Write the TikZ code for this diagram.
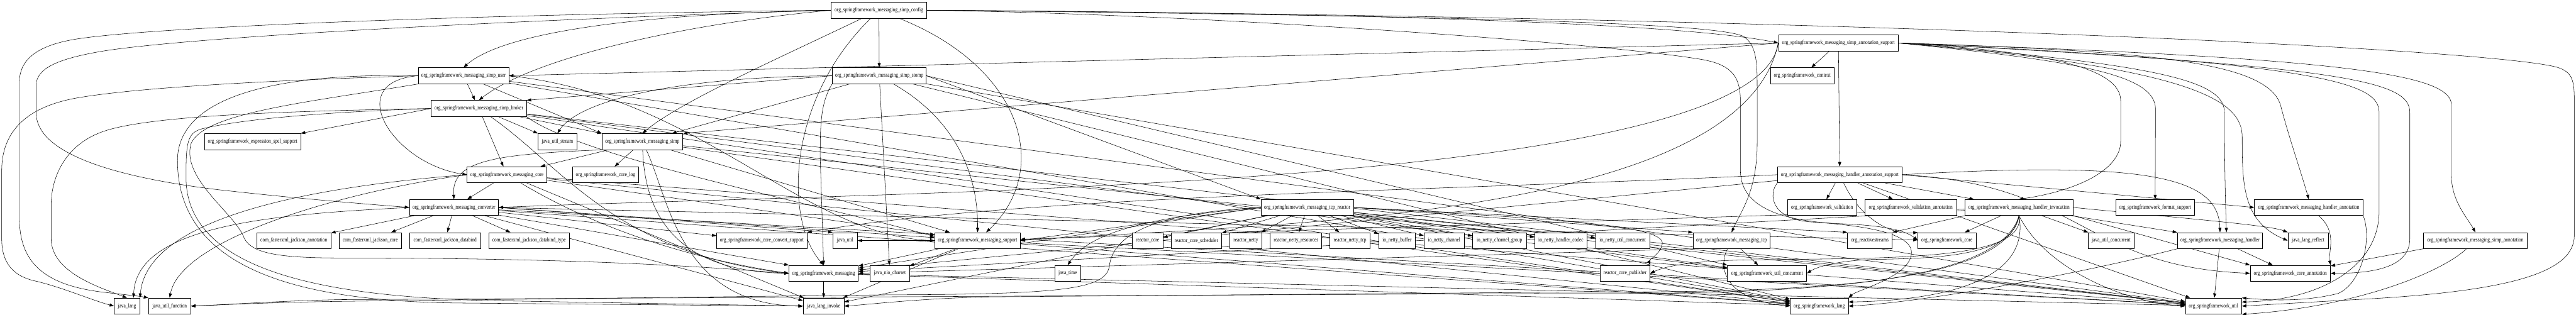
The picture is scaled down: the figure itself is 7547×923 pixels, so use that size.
\documentclass[tikz,border=0pt]{standalone}
\usepackage{fontspec}
\usepackage{graphicx}
\setmainfont{Liberation Serif}
\usetikzlibrary{arrows.meta,calc,backgrounds}
\begin{document}
\begin{tikzpicture}[x=1pt,y=-1pt,
 pkg/.style={draw,line width=1.3pt,fill=white,rectangle,minimum height=47pt,inner sep=0pt,font=\fontsize{13.7}{16}\selectfont},
 dep/.style={line width=1pt,-{Triangle[length=13pt,width=9pt]}}]
\useasboundingbox (0,0) rectangle (7547,923);
\newcommand\pkgnode[5]{\node[pkg,minimum width=#4pt] (#1) at (#2,#3) {\scalebox{1}[1.25]{#5}};}
% row A-F
\pkgnode{cfg}{2575}{30}{280}{org\_springframework\_messaging\_simp\_config}
\pkgnode{sas}{5386}{126}{351}{org\_springframework\_messaging\_simp\_annotation\_support}
\pkgnode{su}{1358}{222}{265}{org\_springframework\_messaging\_simp\_user}
\pkgnode{ss}{2576}{222}{275}{org\_springframework\_messaging\_simp\_stomp}
\pkgnode{ctx}{5280}{222}{187}{org\_springframework\_context}
\pkgnode{sb}{1403}{318}{279}{org\_springframework\_messaging\_simp\_broker}
\pkgnode{spel}{740}{415}{281}{org\_springframework\_expression\_spel\_support}
\pkgnode{jus}{1633}{415}{113}{java\_util\_stream}
\pkgnode{simp}{1882}{415}{237}{org\_springframework\_messaging\_simp}
\pkgnode{core}{1485}{512}{233}{org\_springframework\_messaging\_core}
\pkgnode{log}{1774}{512}{195}{org\_springframework\_core\_log}
\pkgnode{has}{5390}{512}{365}{org\_springframework\_messaging\_handler\_annotation\_support}
% row G
\pkgnode{conv}{1330}{608}{261}{org\_springframework\_messaging\_converter}
\pkgnode{tcpr}{3830}{608}{271}{org\_springframework\_messaging\_tcp\_reactor}
\pkgnode{val}{5338}{608}{202}{org\_springframework\_validation}
\pkgnode{vala}{5598}{608}{268}{org\_springframework\_validation\_annotation}
\pkgnode{hinv}{5915}{608}{317}{org\_springframework\_messaging\_handler\_invocation}
\pkgnode{fmt}{6314}{608}{230}{org\_springframework\_format\_support}
\pkgnode{ha}{6764}{608}{318}{org\_springframework\_messaging\_handler\_annotation}
% row H
\pkgnode{jann}{861}{705}{217}{com\_fasterxml\_jackson\_annotation}
\pkgnode{jcore}{1085}{705}{182}{com\_fasterxml\_jackson\_core}
\pkgnode{jdb}{1304}{705}{207}{com\_fasterxml\_jackson\_databind}
\pkgnode{jdbt}{1550}{705}{237}{com\_fasterxml\_jackson\_databind\_type}
\pkgnode{ccs}{2232}{705}{265}{org\_springframework\_core\_convert\_support}
\pkgnode{ju}{2476}{705}{72}{java\_util}
\pkgnode{sup}{2864}{705}{251}{org\_springframework\_messaging\_support}
\pkgnode{rc}{3362}{705}{90}{reactor\_core}
\pkgnode{rcs}{3505}{705}{148}{reactor\_core\_scheduler}
\pkgnode{rn}{3650}{705}{95}{reactor\_netty}
\pkgnode{rnr}{3797}{705}{151}{reactor\_netty\_resources}
\pkgnode{rnt}{3955}{705}{119}{reactor\_netty\_tcp}
\pkgnode{inb}{4093}{705}{107}{io\_netty\_buffer}
\pkgnode{inc}{4231}{705}{119}{io\_netty\_channel}
\pkgnode{incg}{4393}{705}{157}{io\_netty\_channel\_group}
\pkgnode{inhc}{4573}{705}{154}{io\_netty\_handler\_codec}
\pkgnode{inuc}{4754}{705}{159}{io\_netty\_util\_concurrent}
\pkgnode{tcp}{5073}{705}{226}{org\_springframework\_messaging\_tcp}
\pkgnode{rs}{5478}{705}{131}{org\_reactivestreams}
\pkgnode{score}{5704}{705}{170}{org\_springframework\_core}
\pkgnode{juc}{6185}{705}{136}{java\_util\_concurrent}
\pkgnode{hdl}{6504}{705}{250}{org\_springframework\_messaging\_handler}
\pkgnode{jlr}{6762}{705}{118}{java\_lang\_reflect}
\pkgnode{sa}{7252}{705}{305}{org\_springframework\_messaging\_simp\_annotation}
% row I
\pkgnode{msg}{2413}{801}{203}{org\_springframework\_messaging}
\pkgnode{nio}{2607}{801}{115}{java\_nio\_charset}
\pkgnode{jt}{3128}{801}{75}{java\_time}
\pkgnode{rcp}{4761}{801}{146}{reactor\_core\_publisher}
\pkgnode{uc}{5177}{801}{232}{org\_springframework\_util\_concurrent}
\pkgnode{cann}{6710}{801}{235}{org\_springframework\_core\_annotation}
% row J
\pkgnode{jl}{372}{897}{75}{java\_lang}
\pkgnode{juf}{497}{897}{124}{java\_util\_function}
\pkgnode{jli}{2413}{897}{120}{java\_lang\_invoke}
\pkgnode{lang}{5330}{897}{170}{org\_springframework\_lang}
\pkgnode{util}{6485}{897}{165}{org\_springframework\_util}

\begin{pgfonlayer}{background}
\fill[white] (0,0) rectangle (7547,923);
% ---- simp_config
\draw[dep] (cfg.east) .. controls (3800,36) and (4900,62) .. (sas.west);
\draw[dep] (cfg) -- (ss);
\draw[dep] (cfg.west) .. controls (1900,40) and (1480,90) .. (su.north);
\draw[dep] (cfg.west) .. controls (2000,70) and (1560,170) .. (sb.north);
\draw[dep] (cfg) .. controls (2268,177) and (1990,300) .. (simp.north);
\draw[dep] (cfg) .. controls (3000,200) and (3080,500) .. ($(sup.north)!0.2!(sup.north east)$);
\draw[dep] (cfg) .. controls (2300,300) and (2300,650) .. (msg.north);
\draw[dep] (cfg.west) .. controls (1500,58) and (560,108) .. (300,150) .. controls (170,172) and (106,200) .. (106,250) -- (106,331) .. controls (106,440) and (300,515) .. (640,556) .. controls (900,585) and (1100,600) .. (conv.west);
\draw[dep] (cfg.west) .. controls (1400,42) and (450,78) .. (220,115) .. controls (100,135) and (57,180) .. (57,240) -- (57,640) .. controls (57,770) and (130,835) .. (300,856) .. controls (370,864) and (410,868) .. (juf.north west);
\draw[dep] (cfg.east) .. controls (4400,48) and (5050,70) .. (5110,108) .. controls (5148,135) and (5148,190) .. (5148,260) -- (5148,420) .. controls (5148,560) and (5100,620) .. (tcp.north);
\draw[dep] (cfg.east) .. controls (3500,40) and (4700,125) .. (4990,175) .. controls (5080,192) and (5099,230) .. (5099,300) -- (5099,500) .. controls (5099,620) and (5250,650) .. (5400,656) .. controls (5500,660) and (5580,672) .. (score.west);
\draw[dep] (cfg.east) .. controls (5600,52) and (7380,150) .. (7500,200) .. controls (7540,215) and (7542,245) .. (7542,300) -- (7542,690) .. controls (7542,800) and (7350,855) .. (6900,878) -- (util.east);
% ---- simp_annotation_support
\draw[dep] (sas) -- (ctx);
\draw[dep] (sas) -- (has);
\draw[dep] (sas.west) -- (su.east);
\draw[dep] (sas.west) -- (simp.north east);
\draw[dep] (sas.west) .. controls (5150,560) and (2600,560) .. (conv.east);
\draw[dep] (sas.west) .. controls (5100,656) and (3650,656) .. (sup.east);
\draw[dep] (sas.east) .. controls (6100,180) and (6315,220) .. (6315,320) -- (fmt.north);
\draw[dep] (sas.east) .. controls (6000,150) and (6213,200) .. (6213,295) -- (6213,414) .. controls (6213,500) and (6080,560) .. (hinv.north);
\draw[dep] (sas.east) .. controls (6350,190) and (6517,240) .. (6517,330) .. controls (6517,480) and (6520,600) .. ($(hdl.north)!0.15!(hdl.north east)$);
\draw[dep] (sas.east) .. controls (6450,200) and (6569,300) .. (6569,402) .. controls (6569,540) and (6570,650) .. (jlr.west);
\draw[dep] (sas.east) .. controls (6300,150) and (6640,180) .. (6681,307) .. controls (6705,400) and (6740,500) .. (ha.north);
\draw[dep] (sas.east) .. controls (6900,170) and (7180,220) .. (7182,307) -- (7182,515) .. controls (7182,590) and (7230,640) .. (sa.north);
\draw[dep] (sas.east) .. controls (6900,195) and (7060,240) .. (7060,330) -- (7060,700) .. controls (7060,785) and (6950,801) .. (cann.east);
\draw[dep] (sas.east) .. controls (6850,185) and (6970,250) .. (6970,330) -- (6970,620) .. controls (6970,780) and (6800,880) .. ($(util.east)!0.5!(util.north east)$);
% ---- simp_user
\draw[dep] (su) -- (sb);
\draw[dep] (su) -- (simp.north west);
\draw[dep] (su.west) .. controls (900,232) and (420,252) .. (220,288) .. controls (60,318) and (5,400) .. (5,500) -- (5,700) .. controls (5,790) and (60,815) .. (110,825) .. controls (190,845) and (270,880) .. (jl.west);
\draw[dep] (su.west) .. controls (1000,240) and (1150,480) .. (core.west);
\draw[dep] (su.south west) .. controls (900,300) and (600,330) .. (560,420) .. controls (530,520) and (680,620) .. (712,690) .. controls (730,740) and (800,756) .. (1000,756) .. controls (1800,756) and (2150,790) .. (msg.west);
\draw[dep] (su.east) .. controls (2050,280) and (2350,690) .. (sup.west);
\draw[dep] (su.west) .. controls (760,212) and (520,300) .. (520,470) .. controls (520,800) and (900,884) .. (1350,888) -- (jli.west);
\draw[dep] (su) -- (lang);
\draw[dep] (su) -- (util);
% ---- simp_stomp
\draw[dep] (ss.west) -- (sb.north east);
\draw[dep] (ss.west) .. controls (2000,225) and (1700,290) .. (jus.north);
\draw[dep] (ss) -- (simp);
\draw[dep] (ss.south west) .. controls (2405,300) and (2403,360) .. (2403,460) -- (msg.north);
\draw[dep] (ss) -- (nio);
\draw[dep] (ss.east) -- (tcpr.north west);
\draw[dep] (ss) .. controls (2807,355) and (2866,520) .. (sup.north);
\draw[dep] (ss.east) -- (uc.north west);
\draw[dep] (ss) -- (lang);
\draw[dep] (ss) -- (util);
% ---- simp_broker
\draw[dep] (sb.west) -- (spel.north east);
\draw[dep] (sb) -- (jus);
\draw[dep] (sb) -- (simp);
\draw[dep] (sb) -- (core);
\draw[dep] (sb) .. controls (1650,490) and (1800,740) .. (msg.west);
\draw[dep] (sb.south east) .. controls (1700,460) and (2400,600) .. ($(sup.west)!0.5!(sup.north west)$);
\draw[dep] (sb.west) .. controls (900,325) and (420,335) .. (290,390) .. controls (190,430) and (150,520) .. (150,600) -- (150,700) .. controls (150,800) and (300,845) .. (jl.north);
\draw[dep] (sb.west) .. controls (950,328) and (700,350) .. (590,378) .. controls (548,390) and (545,420) .. (545,520) .. controls (545,810) and (1000,876) .. (1500,882) -- (jli.west);
\draw[dep] (sb) -- (uc);
\draw[dep] (sb) -- (lang);
\draw[dep] (sb) -- (util);
% ---- messaging_simp
\draw[dep] (simp) -- (core);
\draw[dep] (simp) -- (log);
\draw[dep] (simp.south west) .. controls (1450,452) and (1322,470) .. (conv.north);
\draw[dep] (simp) .. controls (1890,650) and (2000,795) .. (msg.west);
\draw[dep] (simp) .. controls (1960,580) and (1990,893) .. (jli.west);
\draw[dep] (simp) -- (sup);
\draw[dep] (simp) -- (lang);
\draw[dep] (simp) -- (util);
% ---- messaging_core
\draw[dep] (core) -- (conv);
\draw[dep] (core) -- (sup);
\draw[dep] (core) .. controls (1800,700) and (2100,770) .. (msg.west);
\draw[dep] (core.west) .. controls (900,548) and (430,640) .. (jl.north east);
\draw[dep] (core.west) .. controls (1000,562) and (530,700) .. (juf.north);
\draw[dep] (core) -- (jli);
\draw[dep] (core) -- (lang);
\draw[dep] (core) -- (util);
% ---- converter
\foreach \tgt in {jann,jcore,jdb,jdbt} {\draw[dep] (conv) -- (\tgt);}
\draw[dep] (conv) -- (ccs);
\draw[dep] (conv.east) -- (sup);
\draw[dep] (conv) -- (msg.north west);
\draw[dep] (conv.east) -- (ju.north west);
\draw[dep] (conv.west) .. controls (800,628) and (400,660) .. ($(jl.north)!0.5!(jl.north east)$);
\draw[dep] (conv.east) -- (score);
\draw[dep] (conv) -- (lang);
\draw[dep] (conv) -- (util);
\draw[dep] (conv) -- (jli);
% ---- support
\draw[dep] (sup) -- (msg);
\draw[dep] (sup) -- (nio);
\draw[dep] (sup.west) -- (ju.east);
\draw[dep] (sup) -- (lang);
\draw[dep] (sup) -- (util);
\draw[dep] (sup) -- (jli);
% ---- messaging
\draw[dep] (msg) -- (jli);
\draw[dep] (msg) -- (lang);
\draw[dep] (msg) -- (util);
% ---- tcp_reactor
\foreach \tgt in {rc,rcs,rn,rnr,rnt,inb,inc,incg,inhc,inuc} {\draw[dep] (tcpr) -- (\tgt);}
\draw[dep] (tcpr.east) -- (tcp.north west);
\draw[dep] (tcpr.east) -- (rs.north west);
\draw[dep] (tcpr) -- (uc);
\draw[dep] (tcpr.west) -- (msg);
\draw[dep] (tcpr.west) -- (sup.east);
\draw[dep] (tcpr) -- (lang);
\draw[dep] (tcpr) -- (util);
\draw[dep] (tcpr) -- (jli);
\draw[dep] (tcpr.east) .. controls (4500,640) and (4880,655) .. (4870,715) .. controls (4864,745) and (4830,762) .. (rcp.north east);
\draw[dep] (tcpr.west) .. controls (3300,640) and (3180,700) .. (jt.north);
\draw[dep] (tcpr.west) .. controls (3350,625) and (3260,700) .. (3250,780) .. controls (3240,850) and (3100,862) .. (2600,864) -- (1000,883) .. controls (800,886) and (650,893) .. (juf.east);
% ---- tcp
\draw[dep] (tcp) -- (uc);
\draw[dep] (tcp.south west) -- (msg.east);
\draw[dep] (tcp) .. controls (5030,790) and (5060,880) .. (lang.west);
% ---- handler_annotation_support
\draw[dep] (has) -- (val);
\draw[dep] (has) -- (vala);
\draw[dep] (has) -- (hinv);
\draw[dep] (has.east) -- (ha.west);
\draw[dep] (has.east) .. controls (6300,470) and (6500,520) .. (hdl.north);
\draw[dep] (has.west) .. controls (4200,560) and (3000,572) .. (ccs.north east);
\draw[dep] (has) .. controls (5450,640) and (5540,690) .. (score.north west);
\draw[dep] (has.east) .. controls (6100,540) and (6100,780) .. (cann.west);
\draw[dep] (has.south west) .. controls (5180,570) and (5190,640) .. (5300,650) .. controls (5450,660) and (5600,680) .. (5600,740) .. controls (5600,810) and (5440,850) .. (lang.north east);
\draw[dep] (has) -- (util);
\draw[dep] (has) -- (msg);
% ---- handler_invocation
\draw[dep] (hinv) -- (score);
\draw[dep] (hinv) -- (juc);
\draw[dep] (hinv) -- (hdl.north west);
\draw[dep] (hinv.south east) -- (cann.north west);
\draw[dep] (hinv.east) .. controls (6400,640) and (6650,660) .. (jlr.north west);
\draw[dep] (hinv.south west) -- (rs.north east);
\draw[dep] (hinv.south) .. controls (5940,770) and (5500,755) .. (5100,762) .. controls (4950,766) and (4880,780) .. (rcp.east);
\draw[dep] (hinv) -- (msg);
\draw[dep] (hinv.south) .. controls (5900,745) and (5700,757) .. (5500,760) .. controls (5400,762) and (5330,778) .. (uc.east);
\draw[dep] (hinv.south) .. controls (5950,820) and (5700,880) .. ($(lang.east)!0.5!(lang.north east)$);
\draw[dep] (hinv.south) .. controls (6000,800) and (6250,890) .. (util.west);
\draw[dep] (hinv.south) .. controls (5870,850) and (5200,856) .. (4600,856) -- (2900,870) .. controls (2700,874) and (2550,892) .. (jli.east);
\draw[dep] (hinv.south) .. controls (5850,862) and (5100,862) .. (4500,860) -- (1000,878) .. controls (800,882) and (650,894) .. (juf.east);
\draw[dep] (hinv) -- (sup);
% ---- handler, handler_annotation, simp_annotation
\draw[dep] (hdl) -- (cann);
\draw[dep] (hdl.south west) .. controls (6100,800) and (5650,885) .. (lang.east);
\draw[dep] (hdl) -- (util);
\draw[dep] (ha) .. controls (6850,680) and (6820,740) .. (cann.north east);
\draw[dep] (ha.south east) .. controls (6950,700) and (6920,830) .. (6850,860) .. controls (6750,885) and (6650,880) .. (util.north east);
\draw[dep] (sa.south west) -- (cann);
\draw[dep] (sa) .. controls (7150,800) and (6900,900) .. (util.south east);
\end{pgfonlayer}
\end{tikzpicture}
\end{document}
